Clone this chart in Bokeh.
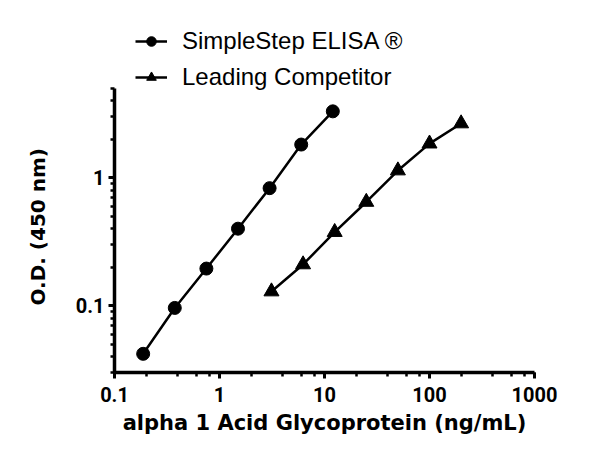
from bokeh.plotting import figure
from bokeh.models import Legend, LegendItem, LogTicker, Range1d, CustomJSTickFormatter, Title
from bokeh.embed import file_html
from bokeh.resources import INLINE

simplestep_conc = [0.1875, 0.375, 0.75, 1.5, 3, 6, 12]
simplestep_od = [0.042, 0.096, 0.195, 0.40, 0.83, 1.82, 3.31]
competitor_conc = [3.125, 6.25, 12.5, 25, 50, 100, 200]
competitor_od = [0.129, 0.21, 0.376, 0.647, 1.14, 1.85, 2.66]
x_title = "alpha 1 Acid Glycoprotein (ng/mL)"
y_title = "O.D. (450 nm)"
series_names = ["SimpleStep ELISA \u00ae", "Leading Competitor"]
y_axis_extent = (0.03, 5)

p = figure(width=600, height=458, x_axis_type="log", y_axis_type="log",
           x_range=Range1d(0.1, 1000), y_range=Range1d(0.03, 17.0),
           output_backend="svg", toolbar_location=None,
           min_border_left=111, min_border_right=66, min_border_top=20, min_border_bottom=86)
p.outline_line_color = None
p.xgrid.visible = False
p.ygrid.visible = False

l1 = p.line(simplestep_conc, simplestep_od, line_color="black", line_width=2.5)
s1 = p.scatter(simplestep_conc, simplestep_od, marker="circle", size=13, fill_color="black", line_color="black")
l2 = p.line(competitor_conc, competitor_od, line_color="black", line_width=2.5)
s2 = p.scatter(competitor_conc, competitor_od, marker="triangle", size=15, fill_color="black", line_color="black")

tick_font = "Roboto"
title_font = "DejaVu Sans"
fmt = CustomJSTickFormatter(code="return String(parseFloat(tick.toPrecision(6)));")
for ax in (p.xaxis[0], p.yaxis[0]):
    ax.axis_line_width = 3.5
    ax.major_tick_line_width = 3
    ax.minor_tick_line_width = 2.5
    ax.major_tick_out = 6
    ax.major_tick_in = 0
    ax.minor_tick_out = 4
    ax.minor_tick_in = 0
    ax.major_label_text_font = tick_font
    ax.major_label_text_font_style = "bold"
    ax.major_label_text_font_size = "20px"
    ax.major_label_text_color = "black"
    ax.axis_label_text_font = title_font
    ax.axis_label_text_font_style = "bold"
    ax.axis_label_text_font_size = "21px"
    ax.axis_label_text_color = "black"
    ax.formatter = fmt

p.xaxis[0].ticker = LogTicker(desired_num_ticks=5)
p.yaxis[0].bounds = y_axis_extent
p.xaxis[0].axis_label = x_title
p.xaxis[0].major_label_standoff = 8
p.yaxis[0].major_label_standoff = 4
p.xaxis[0].axis_label_standoff = 6

ytitle = Title(text=y_title, align="left", offset=67, text_font=title_font, text_font_style="bold",
               text_font_size="20px", text_color="black", standoff=46)
p.add_layout(ytitle, "left")

legend = Legend(items=[LegendItem(label=series_names[0], renderers=[l1, s1]),
                       LegendItem(label=series_names[1], renderers=[l2, s2])],
                location=(21, 281))
legend.border_line_color = None
legend.background_fill_alpha = 0
legend.label_text_font = "Liberation Sans"
legend.label_text_font_size = "24px"
legend.label_text_color = "black"
legend.glyph_width = 32
legend.label_standoff = 15
legend.spacing = 8
legend.padding = 0
legend.margin = 0
legend.label_height = 24
legend.glyph_height = 24
p.add_layout(legend, "center")

open("out.html", "w").write(file_html(p, INLINE))
